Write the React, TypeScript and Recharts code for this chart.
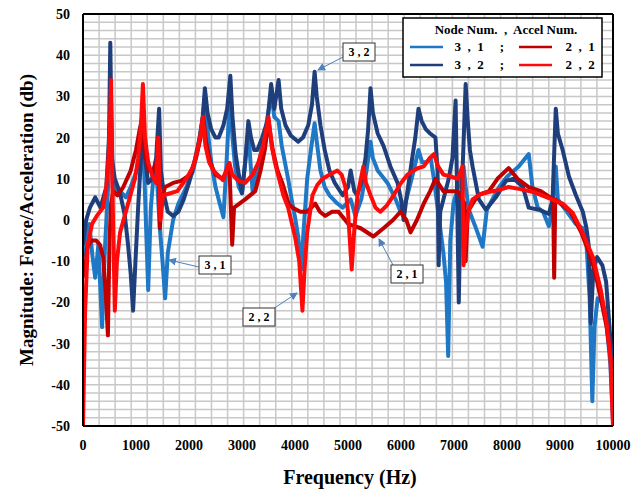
import { LineChart, Line, XAxis, YAxis, ReferenceLine } from 'recharts';

// [frequency Hz, magnitude dB]
const node31: [number, number][] = [
  [0, -9], [60, -4], [120, -1], [180, -9], [230, -14], [290, -6], [360, -26], [410, -8], [460, 5],
  [500, 14], [530, 25], [560, 12], [620, 7], [700, 7], [810, 5.5], [900, 8], [1000, 11.5],
  [1080, 15], [1130, 18], [1160, 10], [1230, -17], [1280, 3], [1320, 9], [1370, 12], [1400, 9],
  [1450, -2], [1500, -10], [1550, -19], [1600, -8], [1700, 0], [1800, 4], [1950, 8], [2080, 12],
  [2180, 18], [2250, 24], [2300, 30], [2350, 22], [2420, 14], [2500, 8], [2580, 4], [2650, 0.7],
  [2700, 12], [2740, 22], [2780, 32], [2820, 20], [2870, 13], [2940, 8], [3000, 6.5], [3060, 14],
  [3120, 22], [3160, 14], [3200, 7], [3260, 11], [3330, 14.5], [3420, 20], [3520, 28], [3550, 31],
  [3610, 25], [3690, 24], [3750, 18], [3870, 10], [3950, 4], [4000, 0.7], [4060, -4], [4120, -12],
  [4160, -3], [4230, 10], [4300, 17], [4370, 23.5], [4420, 18], [4480, 12], [4560, 8], [4650, 6],
  [4800, 4], [4900, 3], [5050, 5], [5140, 1], [5250, 5], [5350, 12], [5425, 19], [5470, 15],
  [5560, 12], [5745, 9], [5900, 5], [5990, 2], [6100, 5], [6220, 11], [6330, 17], [6400, 14],
  [6480, 14], [6560, 15], [6620, 10], [6700, 2], [6800, -8], [6850, -15], [6890, -33], [6930, -5],
  [6990, 4], [7100, 9], [7180, 13], [7220, 8], [7280, 2.5], [7400, -1.5], [7540, -6.5], [7620, 2.5],
  [7850, 8], [8000, 10.5], [8220, 13], [8410, 16], [8480, 8], [8580, 3], [8680, 2], [8790, -1.5],
  [8860, 3], [8920, 13], [8960, 5], [9100, 2.5], [9300, -1], [9430, -2], [9500, -6], [9560, -19],
  [9610, -44], [9650, -26], [9710, -19], [9800, -20], [9870, -24], [9950, -35], [10000, -49],
];

const node32: [number, number][] = [
  [0, -6], [60, 0], [130, 3], [230, 5.5], [330, 3], [440, 8], [490, 20], [515, 43], [545, 15],
  [600, 10], [700, 6.5], [790, 1], [850, -6], [900, -13], [945, -22], [990, -10], [1040, 3],
  [1080, 12], [1130, 21], [1180, 14], [1230, 9], [1300, 10], [1380, 15], [1436, 27], [1470, 12],
  [1530, 6], [1600, 2], [1700, 1], [1800, 2], [1900, 5], [2000, 9], [2100, 14], [2200, 20],
  [2260, 25], [2300, 32], [2350, 26], [2420, 22], [2500, 20], [2560, 20], [2650, 23], [2720, 27],
  [2780, 35], [2820, 25], [2880, 16], [2940, 11], [3000, 6.5], [3060, 14], [3120, 24], [3170, 20],
  [3230, 17], [3290, 17], [3380, 20], [3480, 24], [3550, 33], [3610, 27], [3690, 34], [3740, 27],
  [3820, 23], [3920, 20.5], [4060, 19], [4150, 20], [4250, 23], [4320, 28], [4370, 36], [4410, 30],
  [4480, 23], [4560, 17], [4650, 12], [4750, 9], [4900, 6], [5000, 8], [5050, 12], [5120, 7],
  [5170, 6], [5250, 9], [5330, 15], [5380, 22], [5425, 32], [5470, 26], [5560, 21], [5670, 18],
  [5800, 13], [5935, 9], [6000, 5], [6050, 0], [6110, 6], [6200, 14], [6270, 20], [6330, 27],
  [6390, 24], [6470, 22], [6550, 21], [6650, 20], [6690, 12], [6710, -11], [6740, 2], [6800, 5],
  [6900, 10], [6970, 15], [7030, 29], [7060, 5], [7090, -20], [7120, 0], [7170, 15], [7220, 33],
  [7260, 24], [7300, 17], [7350, 13], [7470, 5], [7600, 2.5], [7790, 5.5], [7980, 9.5], [8130, 10],
  [8300, 8], [8410, 3], [8600, 2.5], [8790, 1.5], [8860, 5], [8920, 27], [8960, 21], [9050, 17],
  [9170, 10.5], [9300, 6], [9430, 2], [9500, -2], [9540, -6], [9580, -25], [9630, -12], [9700, -9],
  [9800, -11], [9870, -15], [9940, -27], [10000, -38],
];

const node21: [number, number][] = [
  [30, -14], [75, -7], [150, -5], [250, -5], [320, -6], [380, -9], [430, -18], [470, -28], [500, -5],
  [530, 4], [570, 7], [650, 6], [760, 8], [900, 12], [1000, 17], [1070, 22], [1120, 25], [1170, 16],
  [1240, 12], [1320, 12], [1390, 14], [1420, 20], [1450, -2], [1480, 5], [1550, 8], [1700, 9],
  [1850, 9.5], [2020, 11], [2130, 15], [2220, 20], [2270, 25], [2320, 19], [2400, 14], [2500, 11],
  [2640, 10], [2760, 13.8], [2815, -6], [2850, 3], [3060, 5], [3250, 7], [3350, 12], [3430, 17],
  [3500, 24], [3580, 17], [3670, 12], [3760, 9], [3880, 4], [3950, 3], [4100, 2], [4230, 2],
  [4380, 4], [4470, 2], [4570, 1], [4700, 2], [4820, 2], [5010, -1], [5240, -2], [5480, -4],
  [5670, -2], [5850, 0], [5990, 2], [6100, 0], [6180, -3], [6300, 0], [6430, 4], [6550, 7],
  [6650, 10], [6800, 7], [7070, 7], [7200, 4], [7220, -10], [7260, 2], [7450, 6], [7660, 7],
  [7820, 10], [8030, 12.6], [8200, 10], [8410, 8], [8640, 7], [8870, 5], [8890, -14], [8910, 5],
  [9200, 2], [9400, -3], [9520, -7], [9650, -12], [9770, -19], [9880, -26], [9960, -34], [10000, -45],
];

const node22: [number, number][] = [
  [0, -50], [40, -22], [90, -6], [170, -1], [260, 1], [380, 3], [440, 8], [480, 15], [510, 24],
  [530, 34], [555, 8], [600, -22], [640, -10], [700, -3], [830, 3], [980, 10], [1040, 15],
  [1090, 22], [1130, 33], [1170, 20], [1230, 14], [1300, 11], [1380, 9], [1420, 20], [1460, 0],
  [1510, 6], [1650, 6.5], [1780, 7], [1950, 10], [2080, 13], [2160, 17], [2220, 21], [2260, 25],
  [2310, 18], [2380, 14], [2460, 12], [2640, 9.7], [2760, 13.8], [2820, 11], [2930, 9.5],
  [3060, 9], [3200, 11], [3310, 14], [3400, 18], [3500, 25], [3560, 18], [3620, 14], [3690, 10.5],
  [3780, 6], [3870, 3], [4000, -4], [4080, -10], [4140, -22], [4180, -12], [4230, -3], [4330, 6],
  [4420, 8.5], [4520, 10], [4650, 11], [4800, 12], [4880, 11], [4950, 8], [5000, 2], [5070, -12],
  [5120, -2], [5180, 6], [5290, 13], [5340, 9], [5425, 6], [5520, 3], [5610, 2], [5730, 3.5],
  [5860, 6], [6000, 9], [6120, 11], [6300, 12.5], [6430, 13], [6540, 15], [6620, 16], [6700, 13],
  [6800, 11], [6950, 10.5], [7070, 10], [7160, 13], [7180, -11], [7220, -3], [7280, 2.4], [7350, 5],
  [7500, 6.3], [7660, 6.8], [7820, 7.2], [8030, 8], [8250, 7.5], [8490, 6.8], [8790, 5.3],
  [9050, 4], [9240, 1.7], [9430, -3.2], [9620, -9], [9770, -17], [9880, -25], [9950, -33],
  [10000, -50],
];

const xTicks = [0, 1000, 2000, 3000, 4000, 5000, 6000, 7000, 8000, 9000, 10000];
const yTicks = [-50, -40, -30, -20, -10, 0, 10, 20, 30, 40, 50];
const gridX = Array.from({ length: 32 }, (_, i) => ((i + 1) * 10000) / 33);
const gridY = Array.from({ length: 49 }, (_, i) => -48 + i * 2);

const SERIES = [
  { name: '3 , 1', points: node31, color: '#1f78c6' },
  { name: '3 , 2', points: node32, color: '#1f3f7c' },
  { name: '2 , 1', points: node21, color: '#c00000' },
  { name: '2 , 2', points: node22, color: '#ff0a0a' },
];

const SERIF = "'Liberation Serif', 'Times New Roman', serif";
const tickStyle = { fontSize: 14, fontWeight: 700, fontFamily: SERIF, fill: '#000' };
const ARROW = '#4f81bd';

const Note = ({ x, y, text }: { x: number; y: number; text: string }) => (
  <g>
    <rect x={x} y={y} width={32} height={18} fill="#fff" stroke="#333" strokeWidth={1} />
    <text x={x + 16} y={y + 13} textAnchor="middle" fontSize={12} fontWeight={700} fontFamily={SERIF}>
      {text}
    </text>
  </g>
);

const App = () => {
  return (
    <div style={{ position: 'absolute', left: 0, top: 0, width: 631, height: 489, background: '#fff' }}>
      <LineChart width={631} height={489} margin={{ top: 14, right: 18, bottom: 33, left: 23 }}>
        <XAxis
          type="number"
          dataKey="freq"
          domain={[0, 10000]}
          ticks={xTicks}
          allowDataOverflow
          tick={tickStyle}
          tickLine={false}
          tickMargin={8}
          height={30}
          axisLine={{ stroke: '#000', strokeWidth: 2 }}
        />
        <YAxis
          type="number"
          domain={[-50, 50]}
          ticks={yTicks}
          allowDataOverflow
          tick={tickStyle}
          tickLine={false}
          tickMargin={7}
          width={60}
          axisLine={{ stroke: '#000', strokeWidth: 2 }}
        />
        {gridX.map((v) => (
          <ReferenceLine key={'gx' + v} x={v} stroke="#c8c8c8" strokeWidth={1.5} />
        ))}
        {gridY.map((v) => (
          <ReferenceLine key={'gy' + v} y={v} stroke="#c8c8c8" strokeWidth={1.5} />
        ))}
        <ReferenceLine y={50} stroke="#000" strokeWidth={2} />
        <ReferenceLine x={10000} stroke="#000" strokeWidth={2} />
        {SERIES.map((s) => (
          <Line
            key={s.name}
            data={s.points.map(([freq, mag]) => ({ freq, mag }))}
            dataKey="mag"
            name={s.name}
            type="linear"
            stroke={s.color}
            strokeWidth={4}
            strokeLinejoin="round"
            dot={false}
            isAnimationActive={false}
          />
        ))}
      </LineChart>

      <svg width={631} height={489} style={{ position: 'absolute', left: 0, top: 0, pointerEvents: 'none' }}>
        <defs>
          <marker id="head" markerWidth="8" markerHeight="8" refX="7" refY="4" orient="auto">
            <path d="M0,0 L8,4 L0,8 z" fill={ARROW} />
          </marker>
        </defs>

        <text
          x={26}
          y={220}
          transform="rotate(-90 26 220)"
          textAnchor="middle"
          dominantBaseline="central"
          fontSize={19}
          fontWeight={700}
          fontFamily={SERIF}
        >
          Magnitude: Force/Acceleration (db)
        </text>
        <text x={350} y={484} textAnchor="middle" fontSize={20} fontWeight={700} fontFamily={SERIF}>
          Frequency (Hz)
        </text>

        {/* legend */}
        <rect x={403} y={18} width={199} height={59} fill="#fff" stroke="#000" strokeWidth={1.5} />
        <text x={506} y={34} textAnchor="middle" fontSize={13} fontWeight={700} fontFamily={SERIF} xmlSpace="preserve">
          {'Node Num.  ,  Accel Num.'}
        </text>
        {[0, 1].map((row) => {
          const y = 47 + row * 18;
          const left = SERIES[row];
          const right = SERIES[row + 2];
          return (
            <g key={row} fontSize={13} fontWeight={700} fontFamily={SERIF}>
              <line x1={410} x2={443} y1={y} y2={y} stroke={left.color} strokeWidth={2.5} />
              <text x={469} y={y + 4} textAnchor="middle" xmlSpace="preserve">{left.name.replace(/ /g, '  ')}</text>
              <text x={502} y={y + 4} textAnchor="middle">;</text>
              <line x1={519} x2={552} y1={y} y2={y} stroke={right.color} strokeWidth={2.5} />
              <text x={580} y={y + 4} textAnchor="middle" xmlSpace="preserve">{right.name.replace(/ /g, '  ')}</text>
            </g>
          );
        })}

        {/* callouts */}
        <line x1={343} y1={57} x2={318} y2={70} stroke={ARROW} strokeWidth={1} markerEnd="url(#head)" />
        <Note x={343} y={43} text="3 , 2" />
        <line x1={199} y1={267} x2={169} y2={260} stroke={ARROW} strokeWidth={1} markerEnd="url(#head)" />
        <Note x={199} y={256} text="3 , 1" />
        <line x1={273} y1={309} x2={297} y2={293} stroke={ARROW} strokeWidth={1} markerEnd="url(#head)" />
        <Note x={243} y={308} text="2 , 2" />
        <line x1={393} y1={265} x2={379} y2={239} stroke={ARROW} strokeWidth={1} markerEnd="url(#head)" />
        <Note x={391} y={265} text="2 , 1" />
      </svg>
    </div>
  );
};

export default App;
